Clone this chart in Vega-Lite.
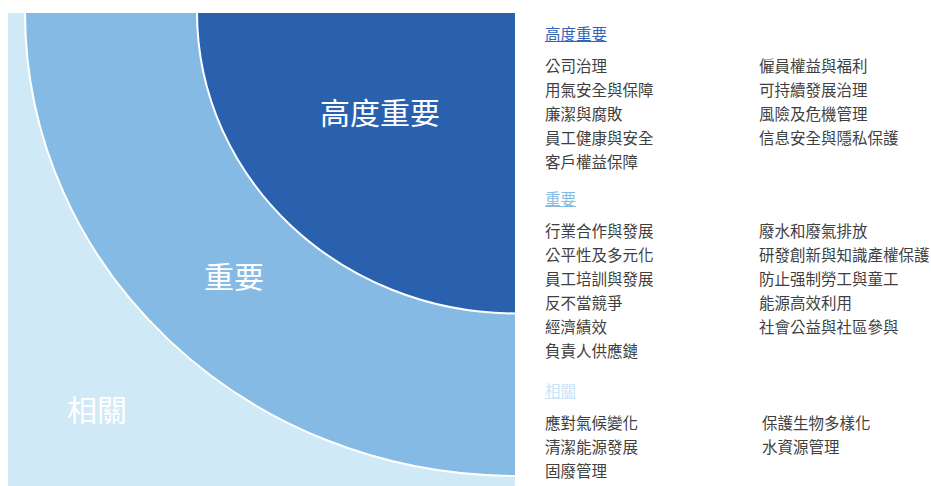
{
  "$schema": "https://vega.github.io/schema/vega-lite/v6.json",
  "padding": {"left": 8, "top": 12, "right": 0, "bottom": 0},
  "autosize": {"type": "pad"},
  "background": "white",
  "bounds": "flush",
  "spacing": 0,
  "config": {
    "view": {"stroke": null},
    "font": "Noto Sans CJK TC",
    "concat": {"spacing": 0}
  },
  "datasets": {
    "levels": [
      {"level": "相關", "rank": 1},
      {"level": "重要", "rank": 2},
      {"level": "高度重要", "rank": 3}
    ],
    "items": [
      {"group": "高度重要", "col": 0, "row": 0, "item": "高度重要"},
      {"group": "高度重要", "col": 0, "row": 1, "item": "公司治理"},
      {"group": "高度重要", "col": 0, "row": 2, "item": "用氣安全與保障"},
      {"group": "高度重要", "col": 0, "row": 3, "item": "廉潔與腐敗"},
      {"group": "高度重要", "col": 0, "row": 4, "item": "員工健康與安全"},
      {"group": "高度重要", "col": 0, "row": 5, "item": "客戶權益保障"},
      {"group": "高度重要", "col": 1, "row": 1, "item": "僱員權益與福利"},
      {"group": "高度重要", "col": 1, "row": 2, "item": "可持續發展治理"},
      {"group": "高度重要", "col": 1, "row": 3, "item": "風險及危機管理"},
      {"group": "高度重要", "col": 1, "row": 4, "item": "信息安全與隱私保護"},
      {"group": "重要", "col": 0, "row": 0, "item": "重要"},
      {"group": "重要", "col": 0, "row": 1, "item": "行業合作與發展"},
      {"group": "重要", "col": 0, "row": 2, "item": "公平性及多元化"},
      {"group": "重要", "col": 0, "row": 3, "item": "員工培訓與發展"},
      {"group": "重要", "col": 0, "row": 4, "item": "反不當競爭"},
      {"group": "重要", "col": 0, "row": 5, "item": "經濟績效"},
      {"group": "重要", "col": 0, "row": 6, "item": "負責人供應鏈"},
      {"group": "重要", "col": 1, "row": 1, "item": "廢水和廢氣排放"},
      {"group": "重要", "col": 1, "row": 2, "item": "研發創新與知識產權保護"},
      {"group": "重要", "col": 1, "row": 3, "item": "防止强制勞工與童工"},
      {"group": "重要", "col": 1, "row": 4, "item": "能源高效利用"},
      {"group": "重要", "col": 1, "row": 5, "item": "社會公益與社區參與"},
      {"group": "相關", "col": 0, "row": 0, "item": "相關"},
      {"group": "相關", "col": 0, "row": 1, "item": "應對氣候變化"},
      {"group": "相關", "col": 0, "row": 2, "item": "清潔能源發展"},
      {"group": "相關", "col": 0, "row": 3, "item": "固廢管理"},
      {"group": "相關", "col": 1, "row": 1, "item": "保護生物多樣化"},
      {"group": "相關", "col": 1, "row": 2, "item": "水資源管理"}
    ]
  },
  "hconcat": [
    {
      "width": 508,
      "height": 474,
      "data": {"name": "levels"},
      "layer": [
        {
          "mark": {
            "type": "point",
            "shape": "M 0 0 L -1 0 C -1 0.522 -0.552 0.945 0 0.945 Z",
            "filled": true,
            "opacity": 1,
            "stroke": "white",
            "strokeWidth": 2,
            "clip": true
          },
          "encoding": {
            "x": {"value": "width"},
            "y": {"value": 0},
            "size": {
              "field": "rank",
              "type": "quantitative",
              "scale": {"domain": [1, 2, 3], "range": [2560000, 964324, 407044], "zero": false, "nice": false},
              "legend": null
            },
            "color": {
              "field": "level",
              "type": "nominal",
              "scale": {"domain": ["相關", "重要", "高度重要"], "range": ["#D0E9F7", "#85BAE4", "#2961AE"]},
              "legend": null
            }
          }
        },
        {
          "mark": {"type": "text", "fontSize": 30, "color": "white", "align": "center", "baseline": "middle"},
          "encoding": {
            "x": {
              "field": "rank",
              "type": "quantitative",
              "scale": {"domain": [1, 2, 3], "range": [89, 226, 372], "zero": false, "nice": false},
              "axis": null
            },
            "y": {
              "field": "rank",
              "type": "quantitative",
              "scale": {"domain": [1, 2, 3], "range": [400, 267, 103], "zero": false, "nice": false},
              "axis": null
            },
            "text": {"field": "level"}
          }
        }
      ]
    },
    {
      "spacing": 0,
      "vconcat": [
        {
          "width": 415,
          "height": 165,
          "data": {"name": "items"},
          "transform": [{"filter": "datum.group === '高度重要'"}],
          "encoding": {
            "x": {"field": "col", "type": "quantitative", "scale": {"domain": [0, 1], "range": [29, 243], "zero": false, "nice": false}, "axis": null},
            "y": {"field": "row", "type": "quantitative", "scale": {"domain": [0, 6], "range": [31, 175], "zero": false, "nice": false}, "axis": null}
          },
          "layer": [
            {
              "transform": [{"filter": "datum.row > 0"}],
              "mark": {"type": "text", "align": "left", "baseline": "middle", "fontSize": 15.5, "color": "#3f3f3f"},
              "encoding": {"text": {"field": "item"}}
            },
            {
              "transform": [{"filter": "datum.row === 0"}],
              "mark": {"type": "text", "align": "left", "baseline": "middle", "fontSize": 15.5, "dy": -8, "color": "#2F64B6"},
              "encoding": {"text": {"field": "item"}}
            },
            {
              "transform": [{"filter": "datum.row === 0"}],
              "mark": {"type": "rule", "color": "#2F64B6", "strokeWidth": 1, "yOffset": -1.5},
              "encoding": {"x2": {"value": 91}}
            }
          ]
        },
        {
          "width": 415,
          "height": 192,
          "data": {"name": "items"},
          "transform": [{"filter": "datum.group === '重要'"}],
          "encoding": {
            "x": {"field": "col", "type": "quantitative", "scale": {"domain": [0, 1], "range": [29, 243], "zero": false, "nice": false}, "axis": null},
            "y": {"field": "row", "type": "quantitative", "scale": {"domain": [0, 6], "range": [31, 175], "zero": false, "nice": false}, "axis": null}
          },
          "layer": [
            {
              "transform": [{"filter": "datum.row > 0"}],
              "mark": {"type": "text", "align": "left", "baseline": "middle", "fontSize": 15.5, "color": "#3f3f3f"},
              "encoding": {"text": {"field": "item"}}
            },
            {
              "transform": [{"filter": "datum.row === 0"}],
              "mark": {"type": "text", "align": "left", "baseline": "middle", "fontSize": 15.5, "dy": -8, "color": "#85BAE4"},
              "encoding": {"text": {"field": "item"}}
            },
            {
              "transform": [{"filter": "datum.row === 0"}],
              "mark": {"type": "rule", "color": "#85BAE4", "strokeWidth": 1, "yOffset": -1.5},
              "encoding": {"x2": {"value": 60}}
            }
          ]
        },
        {
          "width": 415,
          "height": 117,
          "data": {"name": "items"},
          "transform": [{"filter": "datum.group === '相關'"}],
          "encoding": {
            "x": {"field": "col", "type": "quantitative", "scale": {"domain": [0, 1], "range": [29, 246], "zero": false, "nice": false}, "axis": null},
            "y": {"field": "row", "type": "quantitative", "scale": {"domain": [0, 6], "range": [31, 175], "zero": false, "nice": false}, "axis": null}
          },
          "layer": [
            {
              "transform": [{"filter": "datum.row > 0"}],
              "mark": {"type": "text", "align": "left", "baseline": "middle", "fontSize": 15.5, "color": "#3f3f3f"},
              "encoding": {"text": {"field": "item"}}
            },
            {
              "transform": [{"filter": "datum.row === 0"}],
              "mark": {"type": "text", "align": "left", "baseline": "middle", "fontSize": 15.5, "dy": -8, "color": "#C8E4F7"},
              "encoding": {"text": {"field": "item"}}
            },
            {
              "transform": [{"filter": "datum.row === 0"}],
              "mark": {"type": "rule", "color": "#C8E4F7", "strokeWidth": 1, "yOffset": -1.5},
              "encoding": {"x2": {"value": 60}}
            }
          ]
        }
      ]
    }
  ]
}
